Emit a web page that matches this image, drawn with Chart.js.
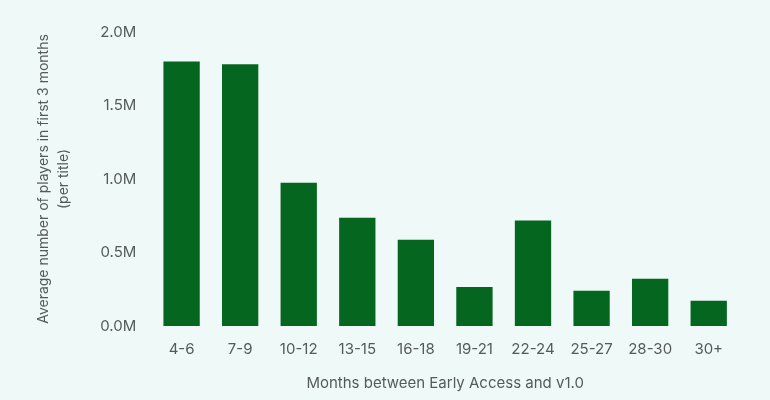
<!DOCTYPE html>
<html>
<head>
<meta charset="utf-8">
<script src="https://cdn.jsdelivr.net/npm/chart.js@4/dist/chart.umd.min.js"></script>
<style>
  html, body { margin: 0; padding: 0; background: #eef9f8; }
  #wrap { width: 770px; height: 400px; }
</style>
</head>
<body>
<div id="wrap"><canvas id="chart"></canvas></div>
<script>
// Data
const categories = ["4-6", "7-9", "10-12", "13-15", "16-18", "19-21", "22-24", "25-27", "28-30", "30+"];
const avgPlayers = [1800000, 1780000, 975000, 737000, 587000, 266000, 717000, 240000, 322000, 171000];
const yTitle = ["Average number of players in first 3 months", "(per title)"];
const xTitle = "Months between Early Access and v1.0";

const TEXT = "#555a5c";
const FONT = "Inter, 'Noto Sans', sans-serif";

new Chart(document.getElementById("chart"), {
  type: "bar",
  data: {
    labels: categories,
    datasets: [{
      data: avgPlayers,
      backgroundColor: "#04661f",
      barPercentage: 0.62,
      categoryPercentage: 1
    }]
  },
  options: {
    responsive: true,
    maintainAspectRatio: false,
    animation: false,
    layout: { padding: { top: 32, right: 32, bottom: 4, left: 30 } },
    plugins: {
      legend: { display: false },
      tooltip: { enabled: false }
    },
    scales: {
      x: {
        grid: { display: false, drawTicks: false },
        border: { display: false },
        ticks: { color: TEXT, font: { family: FONT, size: 15 }, padding: 14, maxRotation: 0 },
        title: { display: true, text: xTitle, color: TEXT, font: { family: FONT, size: 15 }, padding: { top: 2 } }
      },
      y: {
        min: 0,
        max: 2000000,
        grid: { display: false, drawTicks: false },
        border: { display: false },
        ticks: {
          stepSize: 500000,
          color: TEXT,
          font: { family: FONT, size: 15 },
          padding: 16,
          callback: v => (v / 1e6).toFixed(1) + "M"
        },
        title: { display: true, text: yTitle, color: TEXT, font: { family: FONT, size: 14, lineHeight: 1.4 }, padding: { bottom: 11 } }
      }
    }
  }
});
</script>
</body>
</html>
